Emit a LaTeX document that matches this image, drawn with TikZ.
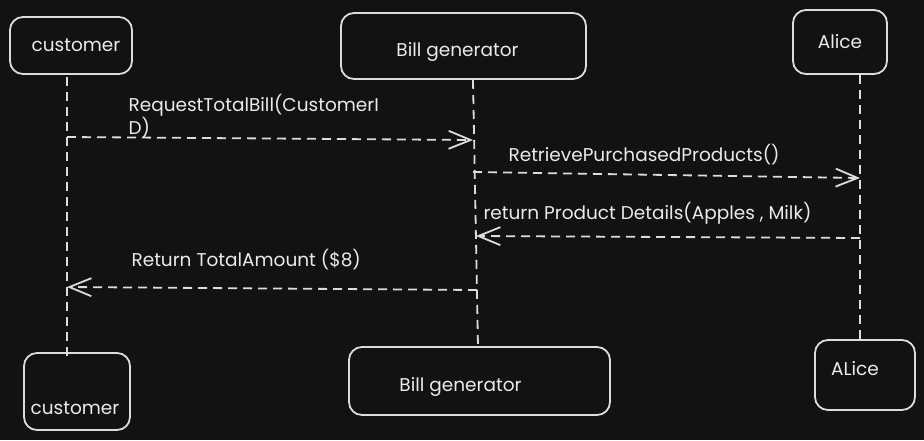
\documentclass[tikz,border=0pt]{standalone}
\usepackage{fontspec}
\setmainfont{Poppins}
\usetikzlibrary{arrows.meta}

\definecolor{bgdark}{HTML}{121212}
\definecolor{inkline}{HTML}{DCDCDC}
\definecolor{inktext}{HTML}{EAEAEA}

\tikzset{
    actor/.style={draw=inkline, line width=1.8pt, rounded corners=13pt, inner sep=0pt},
    lbl/.style={text=inktext, font=\fontsize{18.5}{22}\selectfont},
    lifeline/.style={draw=inkline, line width=1.8pt, dash pattern=on 9pt off 6pt},
    msg/.style={lifeline, -{Straight Barb[length=22pt,width=18pt,line width=1.8pt]}}
}

\begin{document}
\begin{tikzpicture}[x=1pt, y=-1pt]
    % background
    \fill[bgdark] (0,0) rectangle (924,440);
    \useasboundingbox (0,0) rectangle (924,440);

    % Top participants
    \node[actor, minimum width=122pt, minimum height=57pt,
        label={[lbl, xshift=5pt]center:customer}] (cusTop) at (71,45.5) {};
    \node[actor, minimum width=245pt, minimum height=66pt,
        label={[lbl, xshift=-6pt, yshift=-6pt]center:Bill generator}] (billTop) at (463.5,46) {};
    \node[actor, minimum width=94pt, minimum height=64pt,
        label={[lbl]center:Alice}] (aliceTop) at (840,42) {};

    % Bottom participants
    \node[actor, minimum width=106pt, minimum height=77pt,
        label={[lbl, xshift=-2pt, yshift=-17pt]center:customer}] (cusBot) at (77,391.5) {};
    \node[actor, minimum width=261pt, minimum height=68pt,
        label={[lbl, xshift=-19pt, yshift=-6pt]center:Bill generator}] (billBot) at (479.5,381) {};
    \node[actor, minimum width=100pt, minimum height=70pt,
        label={[lbl, xshift=-10pt, yshift=6pt]center:ALice}] (aliceBot) at (865,375) {};

    % Lifelines
    \coordinate (cusL) at (67,77);
    \coordinate (billL) at (473,80);
    \coordinate (aliceL) at (860,75);
    \draw[lifeline] (cusL) -- (67,357);
    \draw[lifeline] (billL) -- (478,347);
    \draw[lifeline] (aliceL) -- (860,340);

    % Messages
    \draw[msg] (cusL |- 0,137) -- (billL |- 0,140);
    \node[lbl, anchor=west, align=left] (m1) at (125,116) {RequestTotalBill(CustomerI\\D)};

    \draw[msg] (billL |- 0,172) -- (aliceL |- 0,178);
    \node[lbl, anchor=west] (m2) at (505,155) {RetrievePurchasedProducts()};

    \draw[msg] (aliceL |- 0,238) -- (476,236);
    \node[lbl, anchor=west] (m3) at (480,213) {return Product Details(Apples , Milk)};

    \draw[msg] (477,290) -- (cusL |- 0,287);
    \node[lbl, anchor=west] (m4) at (128,260) {Return TotalAmount (\$8)};

\end{tikzpicture}
\end{document}
